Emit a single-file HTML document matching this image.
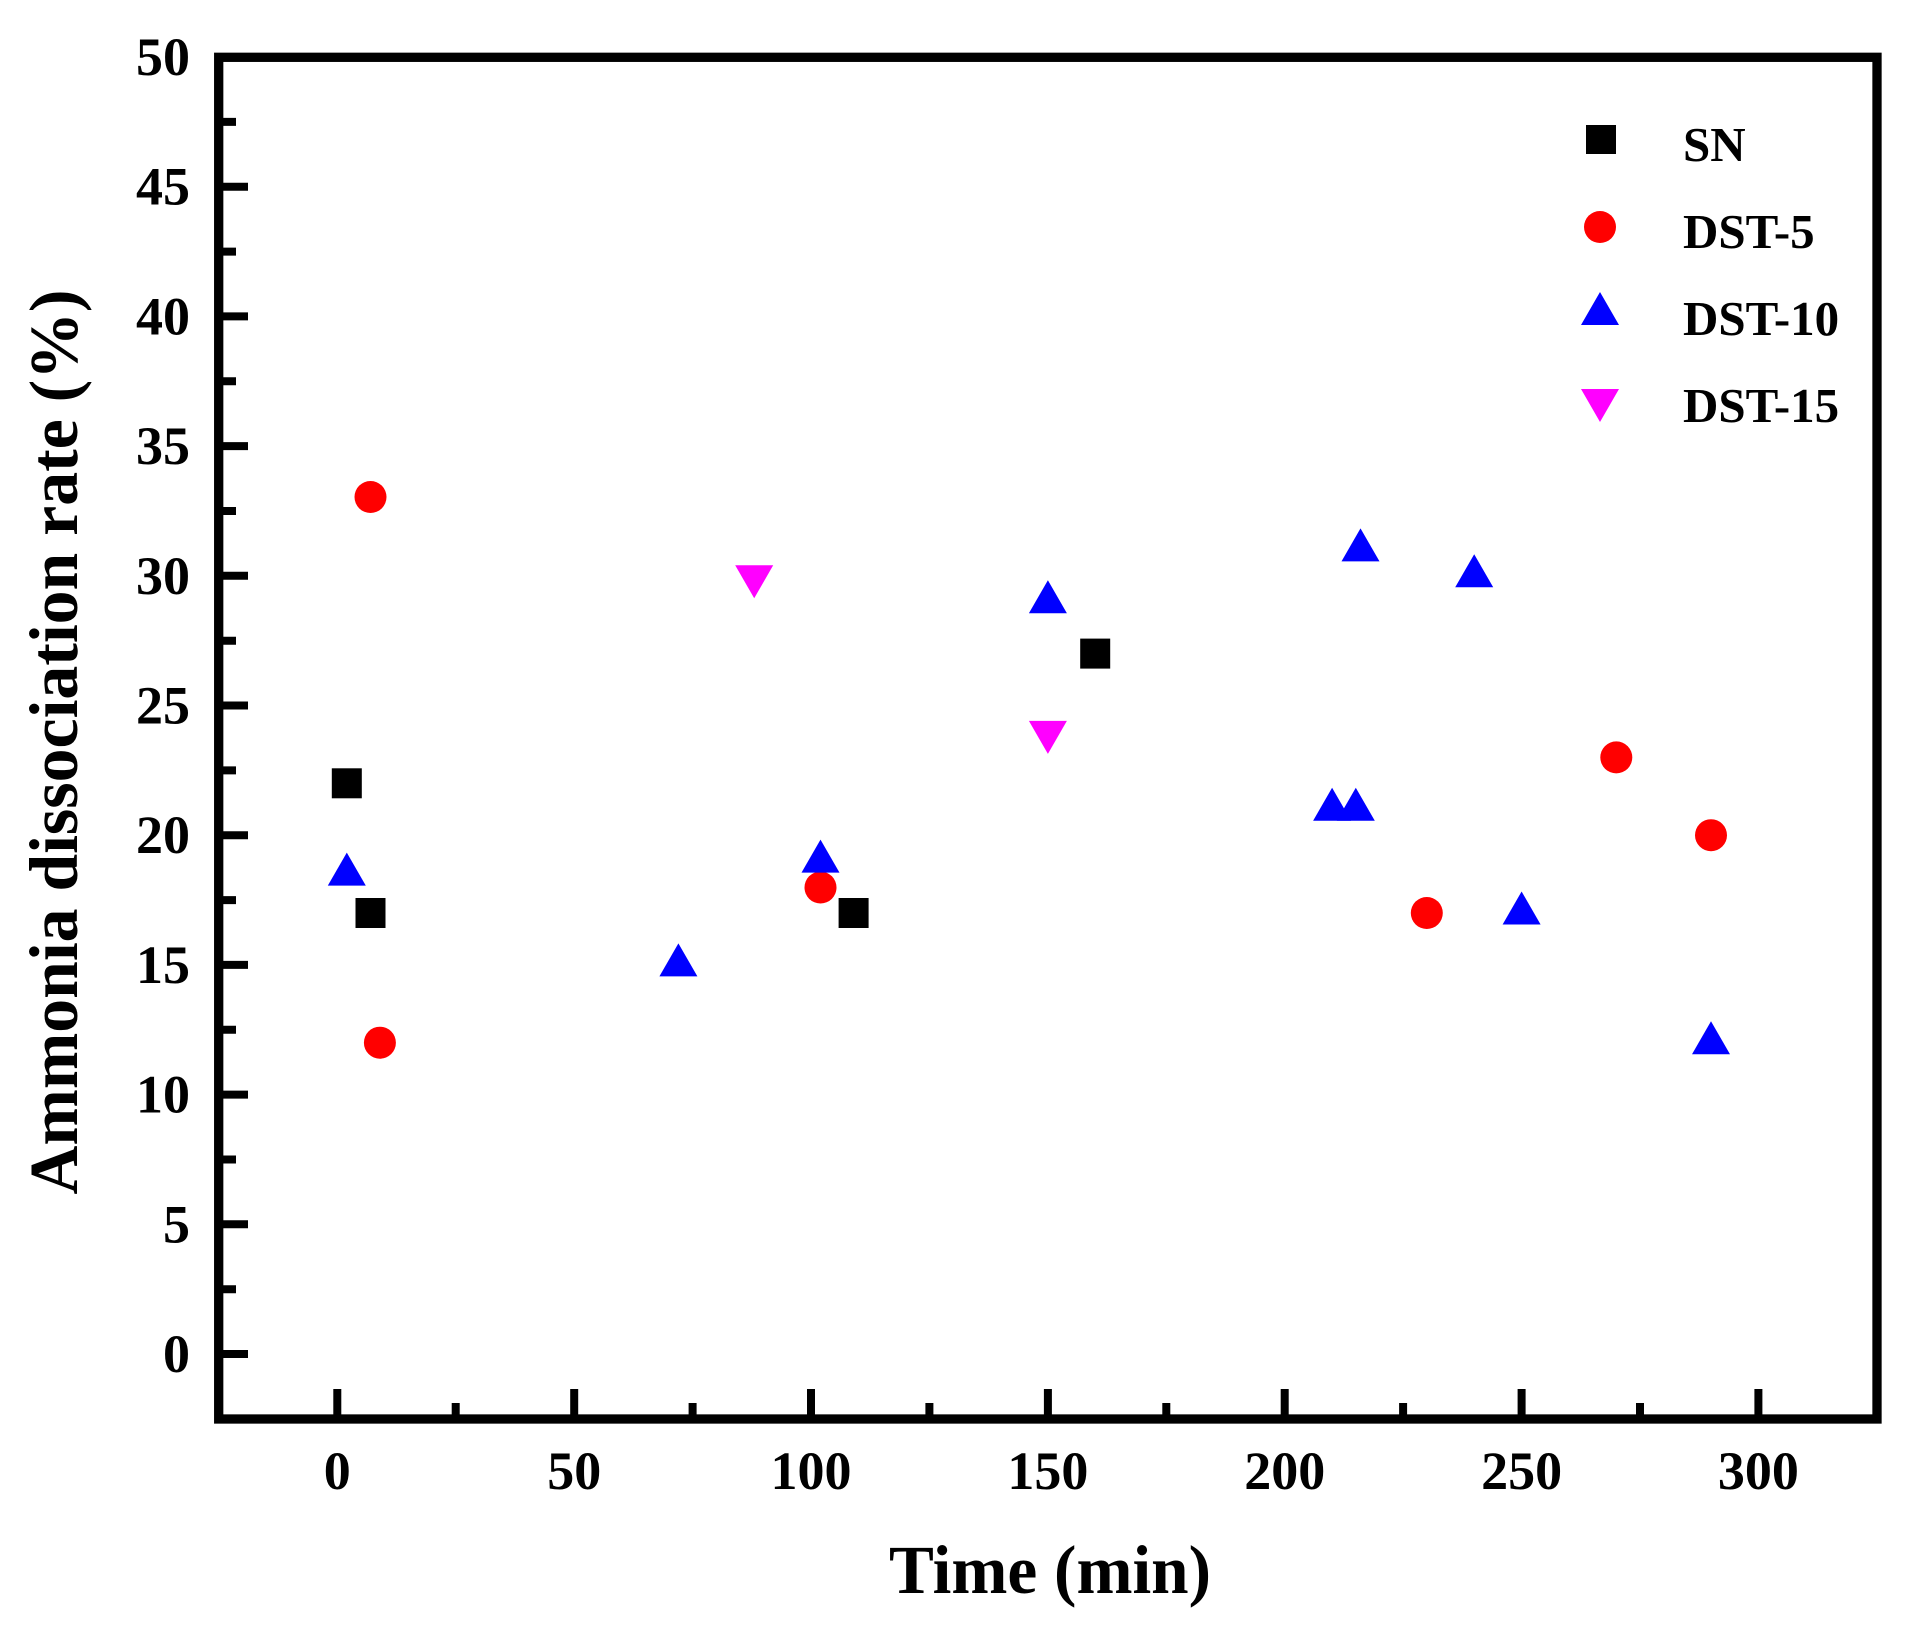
<!DOCTYPE html>
<html>
<head>
<meta charset="utf-8">
<style>
  html, body { margin: 0; padding: 0; background: #ffffff; }
  svg { display: block; }
  text { font-family: "Liberation Serif", "Times New Roman", serif; font-weight: bold; fill: #000; }
</style>
</head>
<body>
<svg width="1913" height="1626" viewBox="0 0 1913 1626" xmlns="http://www.w3.org/2000/svg">
  <rect x="0" y="0" width="1913" height="1626" fill="#ffffff"/>

  <!-- Y ticks: major -->
  <g stroke="#000" stroke-width="8">
    <line x1="218" y1="1354" x2="248" y2="1354"/>
    <line x1="218" y1="1224.3" x2="248" y2="1224.3"/>
    <line x1="218" y1="1094.6" x2="248" y2="1094.6"/>
    <line x1="218" y1="964.9" x2="248" y2="964.9"/>
    <line x1="218" y1="835.2" x2="248" y2="835.2"/>
    <line x1="218" y1="705.5" x2="248" y2="705.5"/>
    <line x1="218" y1="575.8" x2="248" y2="575.8"/>
    <line x1="218" y1="446.1" x2="248" y2="446.1"/>
    <line x1="218" y1="316.4" x2="248" y2="316.4"/>
    <line x1="218" y1="186.7" x2="248" y2="186.7"/>
  </g>
  <!-- Y ticks: minor -->
  <g stroke="#000" stroke-width="8">
    <line x1="218" y1="1289.2" x2="236" y2="1289.2"/>
    <line x1="218" y1="1159.5" x2="236" y2="1159.5"/>
    <line x1="218" y1="1029.8" x2="236" y2="1029.8"/>
    <line x1="218" y1="900.1" x2="236" y2="900.1"/>
    <line x1="218" y1="770.4" x2="236" y2="770.4"/>
    <line x1="218" y1="640.7" x2="236" y2="640.7"/>
    <line x1="218" y1="511.0" x2="236" y2="511.0"/>
    <line x1="218" y1="381.3" x2="236" y2="381.3"/>
    <line x1="218" y1="251.6" x2="236" y2="251.6"/>
    <line x1="218" y1="121.9" x2="236" y2="121.9"/>
  </g>
  <!-- X ticks: major -->
  <g stroke="#000" stroke-width="8">
    <line x1="337.3" y1="1419" x2="337.3" y2="1389"/>
    <line x1="574.2" y1="1419" x2="574.2" y2="1389"/>
    <line x1="811.0" y1="1419" x2="811.0" y2="1389"/>
    <line x1="1047.9" y1="1419" x2="1047.9" y2="1389"/>
    <line x1="1284.7" y1="1419" x2="1284.7" y2="1389"/>
    <line x1="1521.6" y1="1419" x2="1521.6" y2="1389"/>
    <line x1="1758.4" y1="1419" x2="1758.4" y2="1389"/>
  </g>
  <!-- X ticks: minor -->
  <g stroke="#000" stroke-width="8">
    <line x1="455.7" y1="1419" x2="455.7" y2="1403"/>
    <line x1="692.6" y1="1419" x2="692.6" y2="1403"/>
    <line x1="929.4" y1="1419" x2="929.4" y2="1403"/>
    <line x1="1166.3" y1="1419" x2="1166.3" y2="1403"/>
    <line x1="1403.1" y1="1419" x2="1403.1" y2="1403"/>
    <line x1="1640.0" y1="1419" x2="1640.0" y2="1403"/>
  </g>

  <!-- Frame -->
  <rect x="218.7" y="57.3" width="1658.3" height="1361.7" fill="none" stroke="#000" stroke-width="9.3"/>

  <!-- Y tick labels -->
  <g font-size="54" text-anchor="end">
    <text x="190" y="1372">0</text>
    <text x="190" y="1242.3">5</text>
    <text x="190" y="1112.6">10</text>
    <text x="190" y="982.9">15</text>
    <text x="190" y="853.2">20</text>
    <text x="190" y="723.5">25</text>
    <text x="190" y="593.8">30</text>
    <text x="190" y="464.1">35</text>
    <text x="190" y="334.4">40</text>
    <text x="190" y="204.7">45</text>
    <text x="190" y="75">50</text>
  </g>

  <!-- X tick labels -->
  <g font-size="54" text-anchor="middle">
    <text x="337.3" y="1489">0</text>
    <text x="574.2" y="1489">50</text>
    <text x="811.0" y="1489">100</text>
    <text x="1047.9" y="1489">150</text>
    <text x="1284.7" y="1489">200</text>
    <text x="1521.6" y="1489">250</text>
    <text x="1758.4" y="1489">300</text>
  </g>

  <!-- Axis titles -->
  <text x="1050" y="1593" font-size="69" text-anchor="middle" textLength="322" lengthAdjust="spacingAndGlyphs">Time (min)</text>
  <text transform="translate(77,742) rotate(-90)" x="0" y="0" font-size="69" text-anchor="middle" textLength="905" lengthAdjust="spacingAndGlyphs">Ammonia dissociation rate (%)</text>

  <!-- SN squares -->
  <g fill="#000">
    <rect x="331.8" y="768.3" width="30" height="30"/>
    <rect x="355.5" y="898" width="30" height="30"/>
    <rect x="838.6" y="898" width="30" height="30"/>
    <rect x="1080.2" y="638.6" width="30" height="30"/>
  </g>

  <!-- DST-5 circles -->
  <g fill="#ff0000">
    <circle cx="370.5" cy="497" r="16"/>
    <circle cx="379.9" cy="1042.7" r="16"/>
    <circle cx="820.5" cy="887.5" r="16"/>
    <circle cx="1426.8" cy="913" r="16"/>
    <circle cx="1616.3" cy="757.4" r="16"/>
    <circle cx="1711" cy="835.2" r="16"/>
  </g>

  <!-- DST-10 up triangles -->
  <g fill="#0000ff">
    <polygon points="327.8,885.6 365.8,885.6 346.8,852.6"/>
    <polygon points="659.4,976.4 697.4,976.4 678.4,943.4"/>
    <polygon points="801.5,872.6 839.5,872.6 820.5,839.6"/>
    <polygon points="1028.9,613.2 1066.9,613.2 1047.9,580.2"/>
    <polygon points="1313.1,820.8 1351.1,820.8 1332.1,787.8"/>
    <polygon points="1336.8,820.8 1374.8,820.8 1355.8,787.8"/>
    <polygon points="1341.5,561.4 1379.5,561.4 1360.5,528.4"/>
    <polygon points="1455.2,587.3 1493.2,587.3 1474.2,554.3"/>
    <polygon points="1502.6,924.5 1540.6,924.5 1521.6,891.5"/>
    <polygon points="1692,1054.2 1730,1054.2 1711,1021.2"/>
  </g>

  <!-- DST-15 down triangles -->
  <g fill="#ff00ff">
    <polygon points="735.2,565.3 773.2,565.3 754.2,598.3"/>
    <polygon points="1028.9,720.9 1066.9,720.9 1047.9,753.9"/>
  </g>

  <!-- Legend -->
  <rect x="1586" y="125" width="30" height="29" fill="#000"/>
  <circle cx="1600" cy="227" r="16" fill="#ff0000"/>
  <polygon points="1581,325 1619,325 1600,292" fill="#0000ff"/>
  <polygon points="1581,389 1619,389 1600,422" fill="#ff00ff"/>
  <g font-size="49">
    <text x="1683" y="161">SN</text>
    <text x="1683" y="248">DST-5</text>
    <text x="1683" y="335">DST-10</text>
    <text x="1683" y="422">DST-15</text>
  </g>
</svg>
</body>
</html>
